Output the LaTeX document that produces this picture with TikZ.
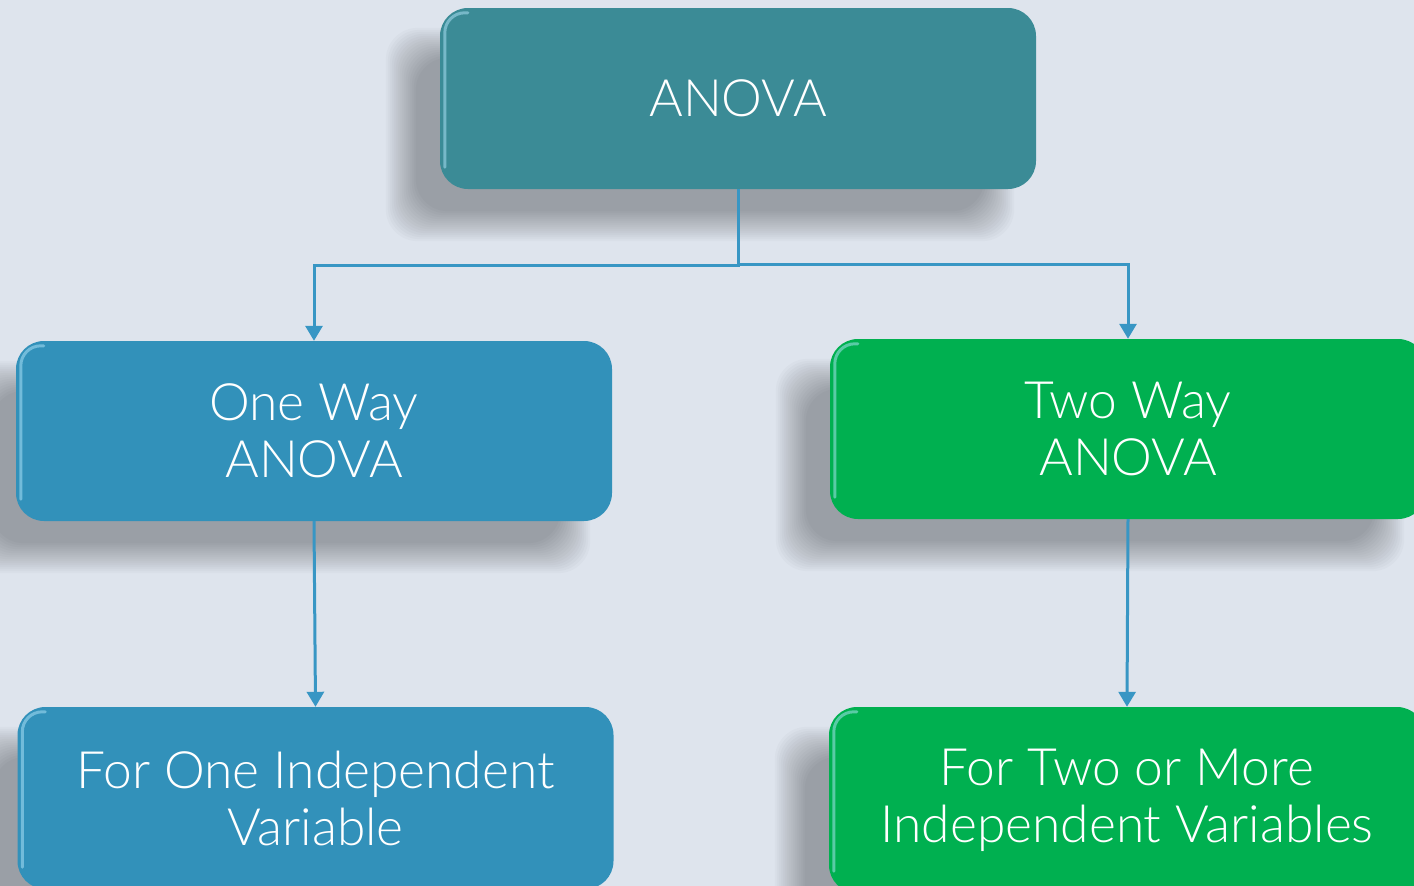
\documentclass[tikz,border=0pt]{standalone}
\usepackage{fontspec}
\setmainfont{Lato}[UprightFont={* Light}]
\usetikzlibrary{arrows.meta}
\pgfdeclarelayer{bg}
\pgfsetlayers{bg,main}
\definecolor{bgc}{RGB}{222,228,237}
\definecolor{tealc}{RGB}{59,139,150}
\definecolor{bluec}{RGB}{50,145,186}
\definecolor{greenc}{RGB}{0,176,80}
\definecolor{linec}{RGB}{56,150,196}
\newcommand\softshadow[1]{%
  \foreach \e in {-14,-12,...,16}{%
    \fill[black,opacity=0.021,rounded corners=32pt]
      ([shift={(-38-\e,36+\e)}]#1.south west) rectangle ([shift={(-38+\e,36-\e)}]#1.north east);
  }%
}
\newcommand\gloss[1]{%
  \draw[cyan!30!white,opacity=0.5,line width=3pt,line cap=round,rounded corners=20pt]
    ([shift={(5,-22)}]#1.south west) -- ([shift={(5,5)}]#1.north west) -- ([shift={(28,5)}]#1.north west);
}
\begin{document}
\begin{tikzpicture}[x=1pt,y=-1pt,
  box/.style={rounded corners=28pt,minimum width=596pt,text=white,align=center,
    inner sep=0pt,font=\fontsize{51.5}{57}\selectfont},
  conn/.style={draw=linec,line width=3pt,-{Triangle[width=17pt,length=15pt]}}]
\begin{pgfonlayer}{bg}
\fill[bgc] (0,0) rectangle (1414,886);
\end{pgfonlayer}
\clip (0,0) rectangle (1414,886);
\node[box,fill=tealc,minimum height=181pt] (top) at (738,98.5) {ANOVA};
\node[box,fill=bluec,minimum height=180pt] (one) at (314,431) {One Way\\ANOVA};
\node[box,fill=greenc,minimum height=180pt] (two) at (1128,429) {Two Way\\ANOVA};
\node[box,fill=bluec,minimum height=182pt] (oneb) at (315.5,798) {For One Independent\\Variable};
\node[box,fill=greenc,minimum height=186pt] (twob) at (1127,800) {For Two or More\\Independent Variables};
\begin{pgfonlayer}{bg}
\softshadow{top}\softshadow{one}\softshadow{two}\softshadow{oneb}\softshadow{twob}
\end{pgfonlayer}
\gloss{top}\gloss{one}\gloss{two}\gloss{oneb}\gloss{twob}
\draw[conn] (top.south) -- ++(0,76) -| (one.north);
\draw[conn] (top.south) -- ++(0,75) -| (two.north);
\draw[conn] (one.south) -- (oneb.north);
\draw[conn] (two.south) -- (twob.north);
\useasboundingbox (0,0) rectangle (1414,886);
\end{tikzpicture}
\end{document}
